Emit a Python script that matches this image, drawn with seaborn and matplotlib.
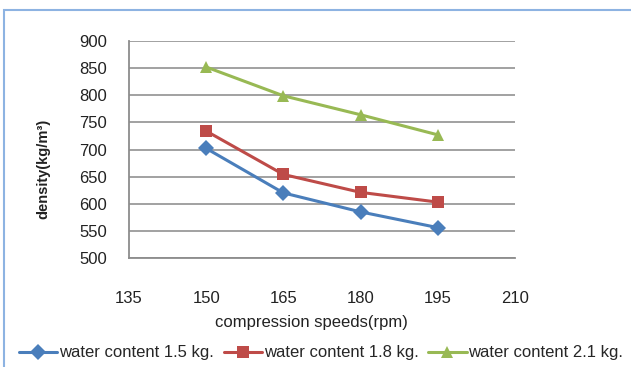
import matplotlib
matplotlib.use("Agg")
import matplotlib.pyplot as plt
from matplotlib.patches import Rectangle
import seaborn as sns
import pandas as pd

# Density measurements at each compression speed
speeds = [150, 165, 180, 195]
density_15 = [702, 620, 585, 556]
density_18 = [734, 654, 621, 603]
density_21 = [852, 799, 764, 727]
series_labels = ["water content 1.5 kg.", "water content 1.8 kg.", "water content 2.1 kg."]
x_ticks = [135, 150, 165, 180, 195, 210]
y_ticks = [500, 550, 600, 650, 700, 750, 800, 850, 900]

df = pd.concat([
    pd.DataFrame({"speed": speeds, "density": vals, "series": lab})
    for vals, lab in zip([density_15, density_18, density_21], series_labels)
])

sns.set_style("white")
plt.rcParams["font.family"] = ["Liberation Sans", "DejaVu Sans"]

fig = plt.figure(figsize=(6.31, 3.67), dpi=100)
ax = fig.add_axes([129 / 631, 1 - 258 / 367, 386 / 631, 217 / 367])

palette = {series_labels[0]: "#4a7ebb", series_labels[1]: "#be4b48", series_labels[2]: "#98b954"}
markers = {series_labels[0]: "D", series_labels[1]: "s", series_labels[2]: "^"}

sns.lineplot(data=df, x="speed", y="density", hue="series", style="series",
             palette=palette, markers=markers, dashes=False, linewidth=2.2,
             markersize=8, markeredgewidth=0, ax=ax)

ax.set_xlim(135, 210)
ax.set_ylim(500, 900)
ax.set_xticks(x_ticks)
ax.set_yticks(y_ticks)
ax.tick_params(axis="x", length=0, pad=24, labelsize=12, colors="#222222")
ax.tick_params(axis="y", length=0, pad=16, labelsize=12, colors="#222222")
ax.grid(axis="y", color="#9a9a9a", linewidth=1.3)
ax.grid(axis="x", visible=False)
ax.set_axisbelow(True)
for side in ["top", "right"]:
    ax.spines[side].set_visible(False)
for side in ["left", "bottom"]:
    ax.spines[side].set_color("#8c8c8c")
    ax.spines[side].set_linewidth(1.3)

ax.set_xlabel("compression speeds(rpm)", fontsize=12, color="#222222")
ax.xaxis.set_label_coords((311 - 129) / 386, (258 - 322) / 217)
ax.xaxis.label.set_va("center")
ax.set_ylabel("density(kg/m³)", fontsize=10.5, fontweight="bold", color="#222222")
ax.yaxis.set_label_coords((43 - 129) / 386, (258 - 169) / 217)
ax.yaxis.label.set_va("center")

handles, labels = ax.get_legend_handles_labels()
ax.get_legend().remove()
for h in handles:
    h.set_markersize(8)
fig.legend(handles, labels, loc="center", bbox_to_anchor=(321 / 631, 1 - 353 / 367),
           ncol=3, frameon=False, fontsize=12, handlelength=2.3, handletextpad=0.1,
           columnspacing=0.6, borderpad=0, borderaxespad=0)

# outer chart frame
fig.patches.append(Rectangle((4 / 631, -0.1), 1.2, 1.1 - 10 / 367,
                             transform=fig.transFigure, fill=False,
                             edgecolor="#8db3e2", linewidth=1.5))

fig.savefig("out.png", dpi=100)
